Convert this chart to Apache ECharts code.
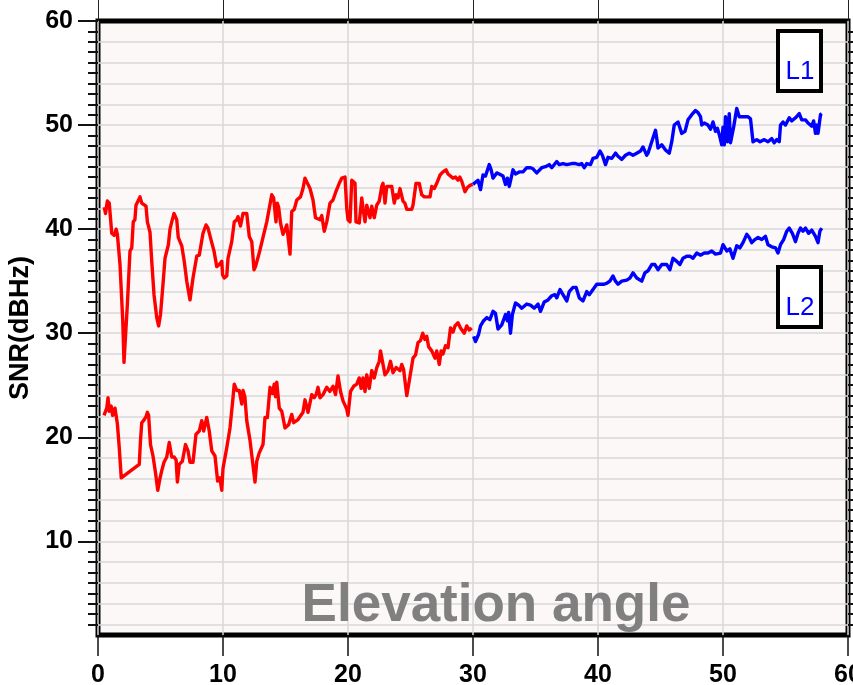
<!DOCTYPE html>
<html>
<head>
<meta charset="utf-8">
<script src="https://cdn.jsdelivr.net/npm/echarts@6/dist/echarts.min.js"></script>
<style>
  html, body { margin: 0; padding: 0; background: #ffffff; }
  #chart { width: 853px; height: 685px; }
</style>
</head>
<body>
<div id="chart"></div>
<script>
// SNR versus elevation angle, L1 and L2 signals.
// Red: low elevation part (0-30 deg), blue: high elevation part (30-58 deg).
const l1Low = [
  [0.5,42.1],[0.6,41.5],[0.75,42.7],[0.9,42.5],[1.1,39.6],[1.3,39.4],[1.45,40.0],[1.55,39.5],[1.76,36.6],[1.98,31.2],
  [2.08,27.2],[2.2,27.3],[2.35,32.8],[2.56,37.9],[2.7,38.2],[2.82,40.7],[2.95,40.9],[3.04,42.3],[3.36,43.1],[3.5,42.5],
  [3.84,42.2],[3.95,40.7],[4.16,39.7],[4.3,36.9],[4.48,33.7],[4.7,31.5],[4.85,30.7],[5.0,31.8],[5.18,34.4],[5.36,37.2],
  [5.63,38.5],[5.76,40.0],[5.9,40.7],[6.08,41.5],[6.3,40.9],[6.42,39.2],[6.7,38.4],[6.9,36.9],[7.1,35.0],[7.36,33.2],
  [7.6,35.3],[7.9,37.4],[8.1,37.5],[8.4,39.6],[8.64,40.4],[8.8,40.1],[9.1,38.7],[9.28,37.9],[9.5,36.4],[9.7,36.6],
  [9.9,36.9],[9.97,35.6],[10.1,35.3],[10.3,35.5],[10.4,37.2],[10.7,38.8],[10.9,40.7],[11.1,40.9],[11.2,41.2],[11.4,40.3],
  [11.6,41.5],[11.9,41.5],[12.1,39.3],[12.3,38.8],[12.48,36.1],[12.6,36.4],[12.96,38.0],[13.2,39.2],[13.5,40.7],[13.7,42.0],
  [13.9,43.3],[14.05,43.0],[14.24,40.7],[14.34,42.5],[14.45,42.1],[14.6,40.6],[14.8,39.5],[14.95,39.9],[15.1,40.4],[15.36,37.6],
  [15.5,41.7],[15.7,41.9],[15.9,42.8],[16.2,43.1],[16.4,43.9],[16.56,44.9],[16.8,44.3],[16.96,43.9],[17.2,42.8],[17.4,41.1],
  [17.76,40.9],[17.9,41.3],[18.1,39.8],[18.3,40.7],[18.56,42.5],[18.8,42.8],[19.0,43.5],[19.3,44.4],[19.5,44.9],[19.76,45.0],
  [19.9,42.0],[20.0,40.9],[20.16,40.7],[20.3,44.7],[20.45,44.6],[20.56,44.4],[20.64,40.7],[20.9,40.6],[21.1,43.0],[21.2,42.0],
  [21.36,40.7],[21.5,42.3],[21.76,41.1],[21.9,42.2],[22.1,41.1],[22.3,42.3],[22.5,42.7],[22.7,44.1],[22.8,44.4],[22.96,42.5],
  [23.1,44.1],[23.5,44.1],[23.7,42.5],[23.85,43.3],[24.0,43.0],[24.16,43.9],[24.4,42.7],[24.55,42.5],[24.7,41.9],[25.1,41.9],
  [25.2,42.3],[25.44,44.4],[25.7,44.4],[25.9,43.3],[26.1,43.1],[26.56,43.1],[26.7,44.1],[26.9,43.9],[27.1,44.4],[27.36,45.2],
  [27.6,45.5],[27.84,45.7],[28.0,45.3],[28.16,45.2],[28.4,44.9],[28.6,45.0],[28.8,44.7],[28.95,45.0],[29.1,44.6],[29.36,43.6],
  [29.55,44.0],[29.76,44.2],[29.97,44.3]
];
const l1High = [
  [30.0,44.3],[30.2,44.5],[30.4,44.7],[30.6,43.8],[30.8,45.2],[31.0,45.1],[31.3,46.2],[31.45,45.7],[31.6,44.9],[31.9,45.4],
  [32.1,45.3],[32.4,45.1],[32.6,44.3],[32.75,44.9],[32.9,44.1],[33.2,45.7],[33.4,45.3],[33.7,45.5],[34.0,45.5],[34.3,45.9],
  [34.6,45.9],[34.8,45.8],[35.1,45.4],[35.5,45.9],[35.8,46.0],[36.1,46.2],[36.3,45.9],[36.7,46.5],[36.9,46.2],[37.2,46.3],
  [37.5,46.2],[37.9,46.3],[38.2,46.3],[38.5,46.2],[38.7,46.3],[38.9,45.9],[39.1,46.3],[39.4,46.2],[39.6,46.8],[39.9,46.9],
  [40.16,47.5],[40.35,47.1],[40.6,46.2],[40.8,46.9],[41.1,46.8],[41.4,47.3],[41.6,47.0],[41.9,46.7],[42.2,47.1],[42.5,47.3],
  [42.8,47.1],[43.1,47.3],[43.4,47.5],[43.6,47.9],[43.75,47.5],[43.9,47.1],[44.0,47.3],[44.3,48.4],[44.6,49.5],[44.7,48.7],
  [44.8,47.8],[45.1,48.1],[45.4,47.6],[45.7,47.3],[45.9,48.4],[46.1,50.0],[46.4,50.3],[46.7,49.2],[46.96,49.4],[47.2,50.5],
  [47.5,51.0],[47.8,51.4],[48.0,51.2],[48.2,50.8],[48.3,50.0],[48.5,50.2],[48.8,50.0],[49.0,49.6],[49.2,50.3],[49.4,49.4],
  [49.55,49.7],[49.7,49.1],[49.9,48.1],[50.0,49.8],[50.1,48.1],[50.2,50.8],[50.35,48.4],[50.5,51.1],[50.6,48.3],[50.85,49.8],
  [51.1,51.6],[51.3,50.8],[51.6,50.8],[52.0,50.8],[52.2,50.6],[52.4,48.4],[52.7,48.6],[52.96,48.4],[53.3,48.6],[53.6,48.4],
  [53.9,48.7],[54.1,48.3],[54.3,48.6],[54.5,48.4],[54.6,50.0],[54.8,50.3],[55.0,50.0],[55.3,50.7],[55.5,50.4],[55.8,50.7],
  [56.1,51.1],[56.3,50.5],[56.6,50.5],[56.8,50.2],[57.1,49.9],[57.25,50.4],[57.4,49.2],[57.5,50.0],[57.6,49.2],[57.8,51.0],
  [57.9,51.1]
];
const l2Low = [
  [0.48,22.1],[0.7,22.8],[0.8,23.8],[0.9,22.5],[1.05,23.0],[1.17,22.1],[1.36,22.8],[1.55,21.3],[1.7,19.0],[1.86,16.1],
  [2.0,16.2],[3.3,17.4],[3.4,19.7],[3.5,21.4],[3.7,21.7],[3.85,22.0],[3.95,22.4],[4.05,22.1],[4.2,19.3],[4.4,18.2],
  [4.6,16.6],[4.78,14.9],[4.95,16.0],[5.1,16.8],[5.28,17.6],[5.5,18.1],[5.7,19.5],[5.9,18.1],[6.1,18.1],[6.25,17.8],
  [6.35,15.7],[6.5,17.4],[6.75,17.7],[7.0,19.3],[7.2,18.7],[7.36,17.6],[7.6,17.6],[7.84,20.3],[8.1,20.6],[8.3,21.6],
  [8.45,20.6],[8.7,21.9],[8.9,20.6],[9.1,18.7],[9.36,18.2],[9.57,15.8],[9.75,16.1],[9.9,14.9],[10.0,17.0],[10.16,17.1],
  [10.3,19.0],[10.56,20.9],[10.8,23.8],[10.9,25.1],[11.1,24.5],[11.3,24.5],[11.5,23.2],[11.6,24.5],[11.75,23.9],[11.9,21.6],
  [12.16,19.7],[12.4,17.3],[12.56,15.7],[12.7,17.7],[12.9,18.5],[13.2,19.3],[13.36,21.9],[13.55,21.9],[13.76,24.8],[13.95,24.2],
  [14.1,25.1],[14.2,23.9],[14.3,25.3],[14.5,22.8],[14.7,22.5],[14.96,20.9],[15.25,21.2],[15.5,22.2],[15.65,21.4],[16.0,21.7],
  [16.4,22.4],[16.56,23.6],[16.8,22.4],[17.1,24.1],[17.3,23.8],[17.45,24.1],[17.6,24.8],[17.76,23.8],[18.0,24.1],[18.3,24.8],
  [18.55,24.4],[18.8,24.9],[19.0,24.1],[19.2,25.9],[19.4,24.4],[19.6,23.5],[19.9,22.7],[20.0,22.1],[20.2,24.4],[20.45,24.9],
  [20.7,25.1],[20.9,25.7],[21.05,24.7],[21.2,25.7],[21.36,24.4],[21.5,26.0],[21.7,24.7],[21.9,26.4],[22.1,25.7],[22.3,26.7],
  [22.5,27.3],[22.6,28.3],[22.8,27.0],[22.96,26.0],[23.2,26.4],[23.4,27.3],[23.6,26.2],[23.85,26.7],[24.16,26.4],[24.3,27.0],
  [24.45,26.5],[24.7,24.0],[24.9,25.4],[25.2,27.6],[25.4,27.9],[25.6,29.1],[25.8,29.3],[25.98,30.0],[26.15,29.4],[26.3,29.7],
  [26.45,28.7],[26.7,28.3],[26.96,27.6],[27.1,28.3],[27.3,27.0],[27.45,28.3],[27.6,28.0],[27.8,28.8],[28.0,28.6],[28.2,30.5],
  [28.4,30.1],[28.56,30.7],[28.8,31.0],[29.0,30.5],[29.3,30.0],[29.5,30.7],[29.7,30.3],[29.9,30.5]
];
const l2High = [
  [30.05,29.7],[30.2,29.2],[30.3,29.1],[30.45,29.9],[30.6,30.7],[30.85,31.2],[31.1,31.5],[31.35,31.3],[31.6,32.1],[31.8,31.9],
  [32.0,30.4],[32.3,30.8],[32.6,31.8],[32.75,31.2],[32.85,32.0],[33.0,30.0],[33.15,31.8],[33.4,32.9],[33.65,32.7],[33.9,32.4],
  [34.3,32.8],[34.6,32.7],[34.9,32.4],[35.2,32.8],[35.4,32.1],[35.7,33.0],[36.0,33.2],[36.3,33.6],[36.55,33.7],[36.7,33.4],
  [36.96,34.2],[37.2,33.7],[37.5,33.1],[37.7,34.0],[38.0,34.4],[38.25,34.4],[38.5,33.4],[38.8,33.1],[39.1,34.0],[39.3,33.7],
  [39.6,34.2],[39.9,34.7],[40.2,34.7],[40.45,34.7],[40.7,34.8],[40.95,35.0],[41.2,35.5],[41.4,35.0],[41.6,34.7],[41.9,35.0],
  [42.3,35.1],[42.55,35.3],[42.8,35.8],[43.1,35.3],[43.5,35.0],[43.75,35.8],[44.0,36.0],[44.3,36.6],[44.55,36.6],[44.8,36.1],
  [45.1,36.6],[45.5,36.6],[45.75,36.1],[46.0,37.2],[46.3,36.9],[46.55,36.6],[46.8,37.2],[47.1,37.4],[47.35,37.4],[47.6,37.2],
  [47.9,37.7],[48.2,37.5],[48.5,37.7],[48.8,37.7],[49.1,37.9],[49.4,37.6],[49.8,37.7],[50.0,38.5],[50.3,37.9],[50.55,38.1],
  [50.8,37.2],[51.1,38.4],[51.35,38.2],[51.6,38.7],[51.9,39.5],[52.1,39.2],[52.3,38.7],[52.55,39.0],[52.8,39.2],[53.1,39.0],
  [53.4,39.3],[53.6,38.5],[53.9,38.3],[54.2,38.2],[54.4,37.7],[54.6,38.5],[54.85,39.0],[55.1,39.8],[55.3,40.1],[55.55,39.6],
  [55.8,38.8],[56.0,39.6],[56.2,40.1],[56.4,39.8],[56.6,40.1],[56.85,39.6],[57.1,39.9],[57.4,39.3],[57.6,38.7],[57.75,39.8],
  [57.9,40.1]
];

// Axis ranges and tick values
const xMin = 0, xMax = 60, xStep = 10;
const yMin = 1, yMax = 60;
const yLabelValues = [10, 20, 30, 40, 50, 60];
const yGridValues = [];
for (let v = 2; v <= 58; v += 2) yGridValues.push(v);
const yMinorValues = [];
for (let v = 2; v <= 59; v++) if (v % 10 !== 0) yMinorValues.push(v);
const yRightValues = [];
for (let v = 2; v <= 59; v++) yRightValues.push(v);

const yTitle = 'SNR(dBHz)';
const xTitle = 'Elevation angle';
const boxLabels = ['L1', 'L2'];

const FONT = '"Liberation Sans", Arial, Helvetica, sans-serif';
const RED = '#ff0000', BLUE = '#0000ff';

const chart = echarts.init(document.getElementById('chart'), null, { renderer: 'canvas' });

function lineSeries(data, color) {
  return {
    type: 'line', data: data, showSymbol: false, symbol: 'none',
    xAxisIndex: 0, yAxisIndex: 0, z: 3,
    lineStyle: { color: color, width: 3.4, join: 'round' },
    itemStyle: { color: color },
    animation: false
  };
}

const plainY = (extra) => Object.assign({
  type: 'value', min: yMin, max: yMax, position: 'left',
  axisLine: { show: false },
  axisLabel: { show: false },
  axisTick: { show: false },
  splitLine: { show: false }
}, extra);

// Framed signal tag (box + label), drawn on top of the plot
function tagBox(left, top, label) {
  return [
    { type: 'rect', z: 100, z2: 1, shape: { x: left + 2, y: top + 2, width: 43, height: 60 },
      style: { fill: '#ffffff', stroke: '#000000', lineWidth: 4 } },
    { type: 'text', z: 100, z2: 2, x: left + 24, y: top + 43,
      style: { text: label, fill: BLUE, font: '26px ' + FONT, align: 'center', verticalAlign: 'middle' } }
  ];
}

chart.setOption({
  animation: false,
  backgroundColor: '#ffffff',
  grid: {
    left: 98, right: 5, top: 21, bottom: 50,
    show: true, backgroundColor: '#fcf8f7',
    borderColor: '#000000', borderWidth: 5,
    containLabel: false, outerBoundsMode: 'none'
  },
  xAxis: [
    {
      type: 'value', min: xMin, max: xMax, interval: xStep, position: 'bottom',
      axisLine: { show: false },
      axisTick: { show: true, inside: false, length: 21, lineStyle: { color: '#111', width: 1.5 } },
      axisLabel: { show: true, margin: 28, color: '#000', fontFamily: FONT, fontWeight: 'bold', fontSize: 25,
                   showMinLabel: true, showMaxLabel: true, hideOverlap: false },
      splitLine: { show: true, lineStyle: { color: '#d8d8d8', width: 1.5 } }
    },
    {
      type: 'value', min: xMin, max: xMax, interval: xStep, position: 'top',
      axisLine: { show: false },
      axisTick: { show: true, inside: false, length: 22, lineStyle: { color: '#222', width: 1 } },
      axisLabel: { show: false },
      splitLine: { show: false }
    }
  ],
  yAxis: [
    plainY({
      name: yTitle, nameLocation: 'middle', nameRotate: 90, nameGap: 55,
      nameTextStyle: { color: '#000', fontFamily: FONT, fontWeight: 'bold', fontSize: 27 },
      axisTick: { show: true, inside: false, length: 20, customValues: yLabelValues, lineStyle: { color: '#111', width: 2 } },
      axisLabel: { show: true, margin: 25, customValues: yLabelValues, color: '#000', fontFamily: FONT,
                   fontWeight: 'bold', fontSize: 25, showMinLabel: true, showMaxLabel: true, hideOverlap: false }
    }),
    plainY({
      axisTick: { show: true, inside: false, length: 10, customValues: yMinorValues, lineStyle: { color: '#111', width: 2 } }
    }),
    plainY({
      axisTick: { show: false, customValues: yGridValues },
      splitLine: { show: true, lineStyle: { color: '#d8d8d8', width: 1.5 } }
    }),
    plainY({
      position: 'right',
      axisTick: { show: true, inside: false, length: 10, customValues: yRightValues, lineStyle: { color: '#111', width: 2 } }
    })
  ],
  series: [
    lineSeries(l1Low, RED),
    lineSeries(l1High, BLUE),
    lineSeries(l2Low, RED),
    lineSeries(l2High, BLUE)
  ],
  graphic: [
    {
      type: 'text', z: 100, x: 496, y: 606,
      style: { text: xTitle, fill: '#808080', font: 'bold 53px ' + FONT, align: 'center', verticalAlign: 'middle' }
    }
  ].concat(tagBox(776, 29, boxLabels[0]), tagBox(776, 265, boxLabels[1]))
});
</script>
</body>
</html>
